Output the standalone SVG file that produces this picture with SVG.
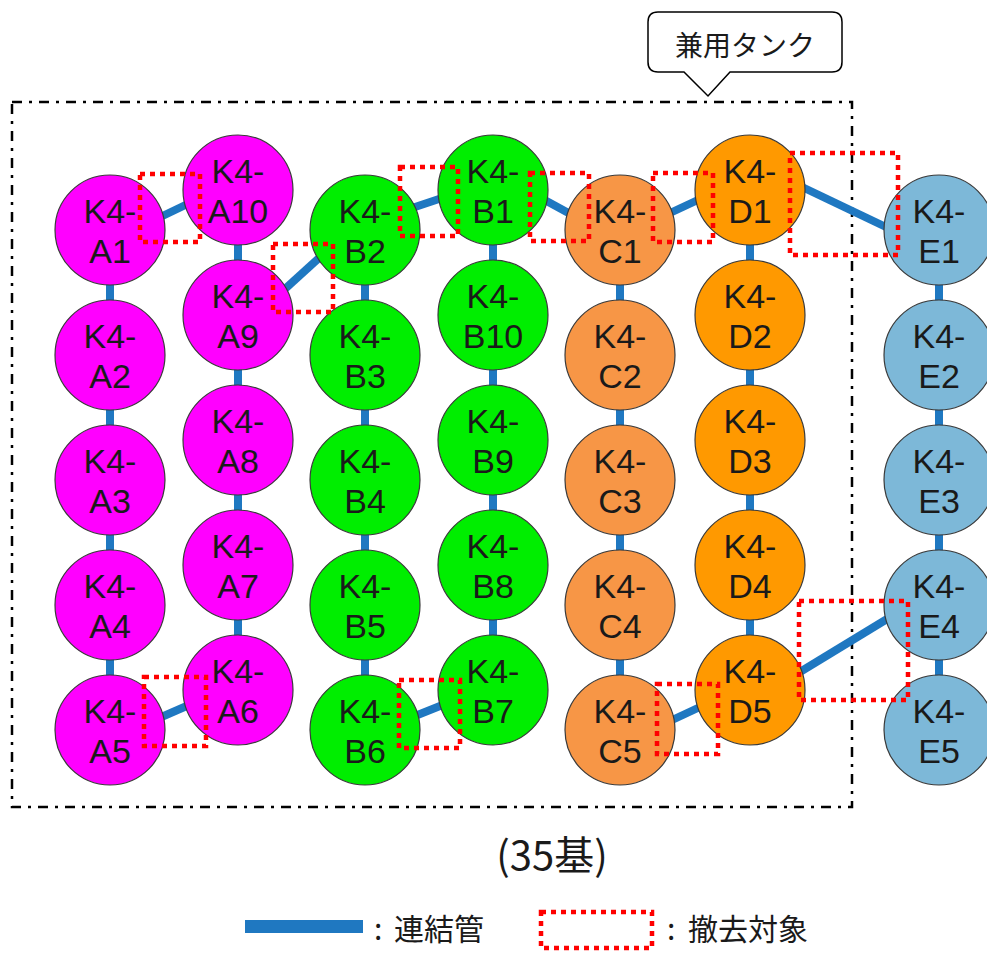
<svg xmlns="http://www.w3.org/2000/svg" width="987" height="956" viewBox="0 0 987 956">
<style>
.n{stroke:#3a3a3a;stroke-width:1.2}
.a{fill:#ff00ff}.b{fill:#00ee00}.c{fill:#f79646}.d{fill:#ff9900}.e{fill:#7db8d8}
.t{font-family:"Liberation Sans","Noto Sans",sans-serif;font-size:34px;fill:#1a1a1a;text-anchor:middle}
.pipe{stroke:#1f78c1;stroke-width:8;fill:none}
.rm{fill:none;stroke:#ff0000;stroke-width:4.5;stroke-dasharray:5 5}
.j{font-family:"Noto Sans CJK JP","Noto Sans",sans-serif;fill:#1a1a1a}
</style>
<rect x="12" y="102" width="840" height="705" fill="none" stroke="#000" stroke-width="2.5" stroke-dasharray="10 7 3 7"/>
<g id="callout">
<path d="M658 12 H832 Q842 12 842 22 V62 Q842 72 832 72 H730 L708 96 L684 72 H658 Q648 72 648 62 V22 Q648 12 658 12 Z" fill="#fff" stroke="#000" stroke-width="1.5"/>
<text class="j" x="745" y="56" font-size="28" text-anchor="middle">兼用タンク</text>
</g>
<g id="connectors">
<line class="pipe" x1="110" y1="230" x2="110" y2="730"/>
<line class="pipe" x1="238" y1="190" x2="238" y2="690"/>
<line class="pipe" x1="365" y1="230" x2="365" y2="730"/>
<line class="pipe" x1="493" y1="190" x2="493" y2="690"/>
<line class="pipe" x1="620" y1="230" x2="620" y2="730"/>
<line class="pipe" x1="750" y1="190" x2="750" y2="690"/>
<line class="pipe" x1="939" y1="230" x2="939" y2="730"/>
<line class="pipe" x1="150" y1="222" x2="200" y2="198"/>
<line class="pipe" x1="275" y1="298" x2="330" y2="248"/>
<line class="pipe" x1="400" y1="212" x2="460" y2="192"/>
<line class="pipe" x1="530" y1="192" x2="585" y2="222"/>
<line class="pipe" x1="655" y1="220" x2="715" y2="192"/>
<line class="pipe" x1="800" y1="186" x2="888" y2="228"/>
<line class="pipe" x1="150" y1="722" x2="205" y2="698"/>
<line class="pipe" x1="400" y1="722" x2="460" y2="698"/>
<line class="pipe" x1="655" y1="728" x2="715" y2="700"/>
<line class="pipe" x1="795" y1="675" x2="892" y2="616"/>
</g>
<g id="A1"><circle class="n a" cx="110" cy="230" r="55"/><text class="t" x="110" y="223">K4-</text><text class="t" x="110" y="263">A1</text></g>
<g id="A2"><circle class="n a" cx="110" cy="355" r="55"/><text class="t" x="110" y="348">K4-</text><text class="t" x="110" y="388">A2</text></g>
<g id="A3"><circle class="n a" cx="110" cy="480" r="55"/><text class="t" x="110" y="473">K4-</text><text class="t" x="110" y="513">A3</text></g>
<g id="A4"><circle class="n a" cx="110" cy="605" r="55"/><text class="t" x="110" y="598">K4-</text><text class="t" x="110" y="638">A4</text></g>
<g id="A5"><circle class="n a" cx="110" cy="730" r="55"/><text class="t" x="110" y="723">K4-</text><text class="t" x="110" y="763">A5</text></g>
<g id="A10"><circle class="n a" cx="238" cy="190" r="55"/><text class="t" x="238" y="183">K4-</text><text class="t" x="238" y="223">A10</text></g>
<g id="A9"><circle class="n a" cx="238" cy="315" r="55"/><text class="t" x="238" y="308">K4-</text><text class="t" x="238" y="348">A9</text></g>
<g id="A8"><circle class="n a" cx="238" cy="440" r="55"/><text class="t" x="238" y="433">K4-</text><text class="t" x="238" y="473">A8</text></g>
<g id="A7"><circle class="n a" cx="238" cy="565" r="55"/><text class="t" x="238" y="558">K4-</text><text class="t" x="238" y="598">A7</text></g>
<g id="A6"><circle class="n a" cx="238" cy="690" r="55"/><text class="t" x="238" y="683">K4-</text><text class="t" x="238" y="723">A6</text></g>
<g id="B2"><circle class="n b" cx="365" cy="230" r="55"/><text class="t" x="365" y="223">K4-</text><text class="t" x="365" y="263">B2</text></g>
<g id="B3"><circle class="n b" cx="365" cy="355" r="55"/><text class="t" x="365" y="348">K4-</text><text class="t" x="365" y="388">B3</text></g>
<g id="B4"><circle class="n b" cx="365" cy="480" r="55"/><text class="t" x="365" y="473">K4-</text><text class="t" x="365" y="513">B4</text></g>
<g id="B5"><circle class="n b" cx="365" cy="605" r="55"/><text class="t" x="365" y="598">K4-</text><text class="t" x="365" y="638">B5</text></g>
<g id="B6"><circle class="n b" cx="365" cy="730" r="55"/><text class="t" x="365" y="723">K4-</text><text class="t" x="365" y="763">B6</text></g>
<g id="B1"><circle class="n b" cx="493" cy="190" r="55"/><text class="t" x="493" y="183">K4-</text><text class="t" x="493" y="223">B1</text></g>
<g id="B10"><circle class="n b" cx="493" cy="315" r="55"/><text class="t" x="493" y="308">K4-</text><text class="t" x="493" y="348">B10</text></g>
<g id="B9"><circle class="n b" cx="493" cy="440" r="55"/><text class="t" x="493" y="433">K4-</text><text class="t" x="493" y="473">B9</text></g>
<g id="B8"><circle class="n b" cx="493" cy="565" r="55"/><text class="t" x="493" y="558">K4-</text><text class="t" x="493" y="598">B8</text></g>
<g id="B7"><circle class="n b" cx="493" cy="690" r="55"/><text class="t" x="493" y="683">K4-</text><text class="t" x="493" y="723">B7</text></g>
<g id="C1"><circle class="n c" cx="620" cy="230" r="55"/><text class="t" x="620" y="223">K4-</text><text class="t" x="620" y="263">C1</text></g>
<g id="C2"><circle class="n c" cx="620" cy="355" r="55"/><text class="t" x="620" y="348">K4-</text><text class="t" x="620" y="388">C2</text></g>
<g id="C3"><circle class="n c" cx="620" cy="480" r="55"/><text class="t" x="620" y="473">K4-</text><text class="t" x="620" y="513">C3</text></g>
<g id="C4"><circle class="n c" cx="620" cy="605" r="55"/><text class="t" x="620" y="598">K4-</text><text class="t" x="620" y="638">C4</text></g>
<g id="C5"><circle class="n c" cx="620" cy="730" r="55"/><text class="t" x="620" y="723">K4-</text><text class="t" x="620" y="763">C5</text></g>
<g id="D1"><circle class="n d" cx="750" cy="190" r="55"/><text class="t" x="750" y="183">K4-</text><text class="t" x="750" y="223">D1</text></g>
<g id="D2"><circle class="n d" cx="750" cy="315" r="55"/><text class="t" x="750" y="308">K4-</text><text class="t" x="750" y="348">D2</text></g>
<g id="D3"><circle class="n d" cx="750" cy="440" r="55"/><text class="t" x="750" y="433">K4-</text><text class="t" x="750" y="473">D3</text></g>
<g id="D4"><circle class="n d" cx="750" cy="565" r="55"/><text class="t" x="750" y="558">K4-</text><text class="t" x="750" y="598">D4</text></g>
<g id="D5"><circle class="n d" cx="750" cy="690" r="55"/><text class="t" x="750" y="683">K4-</text><text class="t" x="750" y="723">D5</text></g>
<g id="E1"><circle class="n e" cx="939" cy="230" r="55"/><text class="t" x="939" y="223">K4-</text><text class="t" x="939" y="263">E1</text></g>
<g id="E2"><circle class="n e" cx="939" cy="355" r="55"/><text class="t" x="939" y="348">K4-</text><text class="t" x="939" y="388">E2</text></g>
<g id="E3"><circle class="n e" cx="939" cy="480" r="55"/><text class="t" x="939" y="473">K4-</text><text class="t" x="939" y="513">E3</text></g>
<g id="E4"><circle class="n e" cx="939" cy="605" r="55"/><text class="t" x="939" y="598">K4-</text><text class="t" x="939" y="638">E4</text></g>
<g id="E5"><circle class="n e" cx="939" cy="730" r="55"/><text class="t" x="939" y="723">K4-</text><text class="t" x="939" y="763">E5</text></g>
<g id="removal">
<rect class="rm" x="140" y="174" width="60" height="68"/>
<rect class="rm" x="273" y="244" width="60" height="68"/>
<rect class="rm" x="400" y="167" width="58" height="69"/>
<rect class="rm" x="530" y="173" width="59" height="68"/>
<rect class="rm" x="653" y="173" width="60" height="69"/>
<rect class="rm" x="790" y="153" width="108" height="102"/>
<rect class="rm" x="144" y="677" width="62" height="69"/>
<rect class="rm" x="399" y="680" width="61" height="68"/>
<rect class="rm" x="657" y="684" width="61" height="70"/>
<rect class="rm" x="799" y="601" width="109" height="99"/>
</g>
<text class="j" x="552" y="870" font-size="40" text-anchor="middle">(35基)</text>
<g id="legend">
<rect x="245" y="920" width="118" height="13" fill="#1f78c1"/>
<text class="j" x="374" y="940" font-size="30">:</text>
<text class="j" x="394" y="940" font-size="30">連結管</text>
<rect class="rm" x="541" y="912" width="111" height="36"/>
<text class="j" x="667" y="940" font-size="30">:</text>
<text class="j" x="688" y="940" font-size="30">撤去対象</text>
</g>
</svg>
